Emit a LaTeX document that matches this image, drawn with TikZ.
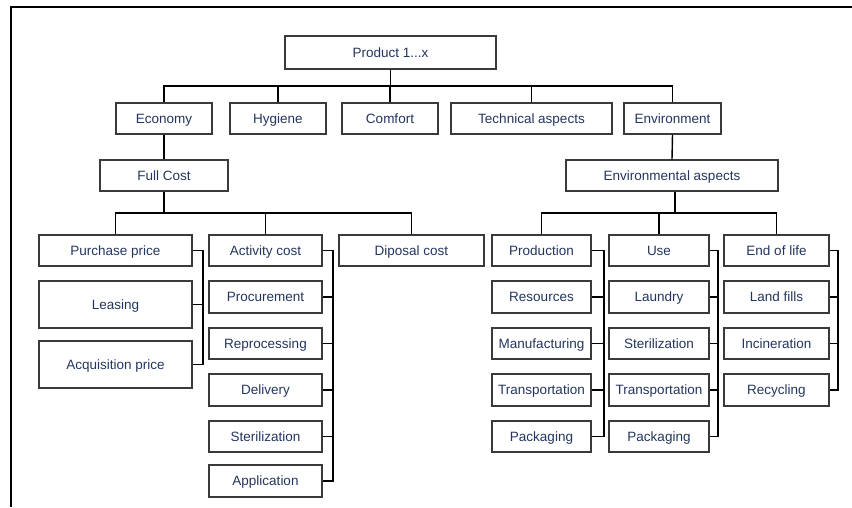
\documentclass[tikz,border=0pt]{standalone}
\usepackage{fontspec}
\setmainfont{Liberation Sans}
\definecolor{txt}{HTML}{24365F}
\definecolor{bord}{HTML}{3A3A3A}
\begin{document}
\begin{tikzpicture}[x=1pt,y=-1pt,
  box/.style={draw=bord,line width=1.2pt,fill=white,text=txt,inner sep=0pt,
     text height=9.7pt,text depth=0.6pt,
     font=\fontsize{13.5}{16}\selectfont},
  conn/.style={draw=black,line width=1.4pt},
  brk/.style={draw=black,line width=1.8pt}]
\useasboundingbox (0,0) rectangle (852,507);
\draw[line width=2.6pt] (852,7) -- (11,7) -- (11,507);
% top level
\node[box,minimum width=211,minimum height=33] (prod) at (390.5,52.5) {Product 1...x};
\node[box,minimum width=96,minimum height=31] (econ) at (164,118.5) {Economy};
\node[box,minimum width=96,minimum height=31] (hyg) at (278,118.5) {Hygiene};
\node[box,minimum width=96,minimum height=31] (comf) at (390,118.5) {Comfort};
\node[box,minimum width=161,minimum height=31] (tech) at (531.5,118.5) {Technical aspects};
\node[box,minimum width=97,minimum height=31] (env) at (672.5,118.5) {Environment};
\node[box,minimum width=128,minimum height=31] (full) at (164,175.5) {Full Cost};
\node[box,minimum width=212,minimum height=31] (envasp) at (672,175.5) {Environmental aspects};
% left group
\node[box,minimum width=153,minimum height=31] (purch) at (115.5,250.5) {Purchase price};
\node[box,minimum width=153,minimum height=47] (leas) at (115.5,304.5) {Leasing};
\node[box,minimum width=153,minimum height=47] (acq) at (115.5,364.5) {Acquisition price};
\node[box,minimum width=113,minimum height=31] (act) at (265.5,250.5) {Activity cost};
\node[box,minimum width=113,minimum height=32] (proc) at (265.5,297) {Procurement};
\node[box,minimum width=113,minimum height=31] (repr) at (265.5,343.5) {Reprocessing};
\node[box,minimum width=113,minimum height=32] (deliv) at (265.5,390) {Delivery};
\node[box,minimum width=113,minimum height=31] (ster) at (265.5,436.5) {Sterilization};
\node[box,minimum width=113,minimum height=32] (appl) at (265.5,481) {Application};
\node[box,minimum width=145,minimum height=31] (disp) at (411.5,250.5) {Diposal cost};
% right group
\node[box,minimum width=99,minimum height=31] (pro) at (541.5,250.5) {Production};
\node[box,minimum width=99,minimum height=32] (res) at (541.5,297) {Resources};
\node[box,minimum width=99,minimum height=31] (man) at (541.5,343.5) {Manufacturing};
\node[box,minimum width=99,minimum height=32] (tra1) at (541.5,390) {Transportation};
\node[box,minimum width=99,minimum height=31] (pac1) at (541.5,436.5) {Packaging};
\node[box,minimum width=100,minimum height=31] (use) at (659,250.5) {Use};
\node[box,minimum width=100,minimum height=32] (lau) at (659,297) {Laundry};
\node[box,minimum width=100,minimum height=31] (ste2) at (659,343.5) {Sterilization};
\node[box,minimum width=100,minimum height=32] (tra2) at (659,390) {Transportation};
\node[box,minimum width=100,minimum height=31] (pac2) at (659,436.5) {Packaging};
\node[box,minimum width=105,minimum height=31] (eol) at (776.5,250.5) {End of life};
\node[box,minimum width=105,minimum height=32] (land) at (776.5,297) {Land fills};
\node[box,minimum width=105,minimum height=31] (inc) at (776.5,343.5) {Incineration};
\node[box,minimum width=105,minimum height=32] (rec) at (776.5,390) {Recycling};
% top bus
\coordinate (bus1) at (390.5,86);
\draw[conn] (prod.south) -- (prod.south |- bus1);
\draw[conn] (econ.north) -- (econ.north |- bus1) -- (env.north |- bus1) -- (env.north);
\foreach \n in {hyg,comf,tech} \draw[conn] (\n.north) -- (\n.north |- bus1);
\draw[conn] (econ.south) -- (full.north);
\draw[conn] (env.south) -- (envasp.north);
% left sub bus
\coordinate (bus2) at (164,213);
\draw[conn] (full.south) -- (full.south |- bus2);
\draw[conn] (purch.north) -- (purch.north |- bus2) -- (disp.north |- bus2) -- (disp.north);
\draw[conn] (act.north) -- (act.north |- bus2);
% right sub bus
\coordinate (bus3) at (675,213);
\draw[conn] ([xshift=3pt]envasp.south) -- (bus3);
\draw[conn] (pro.north) -- (pro.north |- bus3) -- (eol.north |- bus3) -- (eol.north);
\draw[conn] (use.north) -- (use.north |- bus3);
% brackets
\draw[brk] (purch.east) -- ++(10,0) |- (acq.east);
\draw[conn] (leas.east) -- ++(10,0);
\draw[brk] (act.east) -- ++(10,0) |- (appl.east);
\foreach \n in {proc,repr,deliv,ster} \draw[conn] (\n.east) -- ++(10,0);
\draw[brk] (pro.east) -- ++(12,0) |- (pac1.east);
\foreach \n in {res,man,tra1} \draw[conn] (\n.east) -- ++(12,0);
\draw[brk] (use.east) -- ++(8,0) |- (pac2.east);
\foreach \n in {lau,ste2,tra2} \draw[conn] (\n.east) -- ++(8,0);
\draw[brk] (eol.east) -- ++(8,0) |- (rec.east);
\foreach \n in {land,inc} \draw[conn] (\n.east) -- ++(8,0);
\end{tikzpicture}
\end{document}
